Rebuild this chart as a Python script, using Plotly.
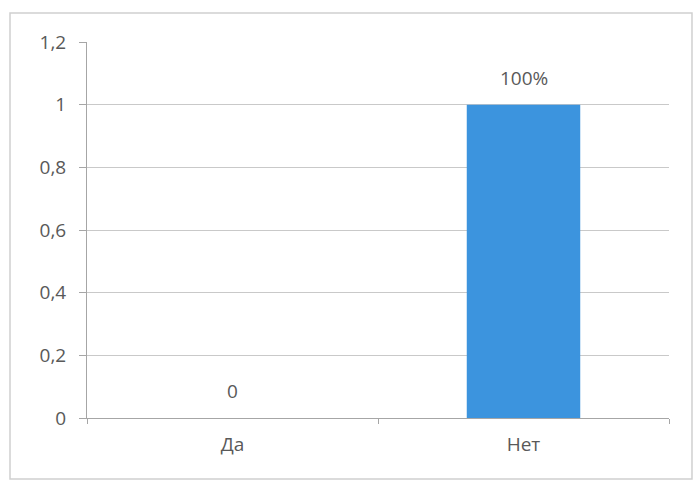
import plotly.graph_objects as go

# Survey answers and their shares
categories = ["Да", "Нет"]
values = [0, 1]
value_labels = ["0", "100%"]
y_ticks = [0, 0.2, 0.4, 0.6, 0.8, 1.0, 1.2]

BAR_COLOR = "#3c94de"
TEXT_COLOR = "#595959"
GRID_COLOR = "#c9c9c9"
FONT = "Open Sans"
FONT_SIZE = 19

fig = go.Figure(
    go.Bar(
        x=categories,
        y=values,
        marker=dict(color=BAR_COLOR, line=dict(width=0)),
        width=0.39,
        hoverinfo="skip",
    )
)

# Data labels above each bar
for cat, val, lab in zip(categories, values, value_labels):
    fig.add_annotation(
        x=cat, y=val, text=lab, showarrow=False,
        yanchor="bottom", yshift=12,
        font=dict(family=FONT, size=FONT_SIZE, color=TEXT_COLOR),
    )

# Chart frame around the whole figure area
fig.add_shape(
    type="rect", xref="paper", yref="paper",
    x0=-0.1323, x1=1.0395, y0=-0.162, y1=1.077,
    line=dict(color="#d0d0d0", width=1.5), layer="below",
)

fig.update_layout(
    width=697, height=481,
    margin=dict(l=87, r=28, t=42, b=63),
    paper_bgcolor="white", plot_bgcolor="white",
    separators=", ",
    showlegend=False,
    font=dict(family=FONT, size=FONT_SIZE, color=TEXT_COLOR),
)
fig.update_xaxes(
    showline=True, linecolor="#a6a6a6", linewidth=1,
    ticks="outside", tickson="boundaries", ticklen=5, tickcolor="#a6a6a6",
    showgrid=False, ticklabelstandoff=9,
    tickfont=dict(family=FONT, size=FONT_SIZE, color=TEXT_COLOR),
)
fig.update_yaxes(
    range=[0, 1.2], tickvals=y_ticks,
    showline=True, linecolor="#a6a6a6", linewidth=1,
    ticks="outside", ticklen=7, tickcolor="#a6a6a6",
    showgrid=True, gridcolor=GRID_COLOR, gridwidth=1,
    zeroline=False, ticklabelstandoff=9,
    tickfont=dict(family=FONT, size=FONT_SIZE, color=TEXT_COLOR),
)

fig.write_html("out.html")
